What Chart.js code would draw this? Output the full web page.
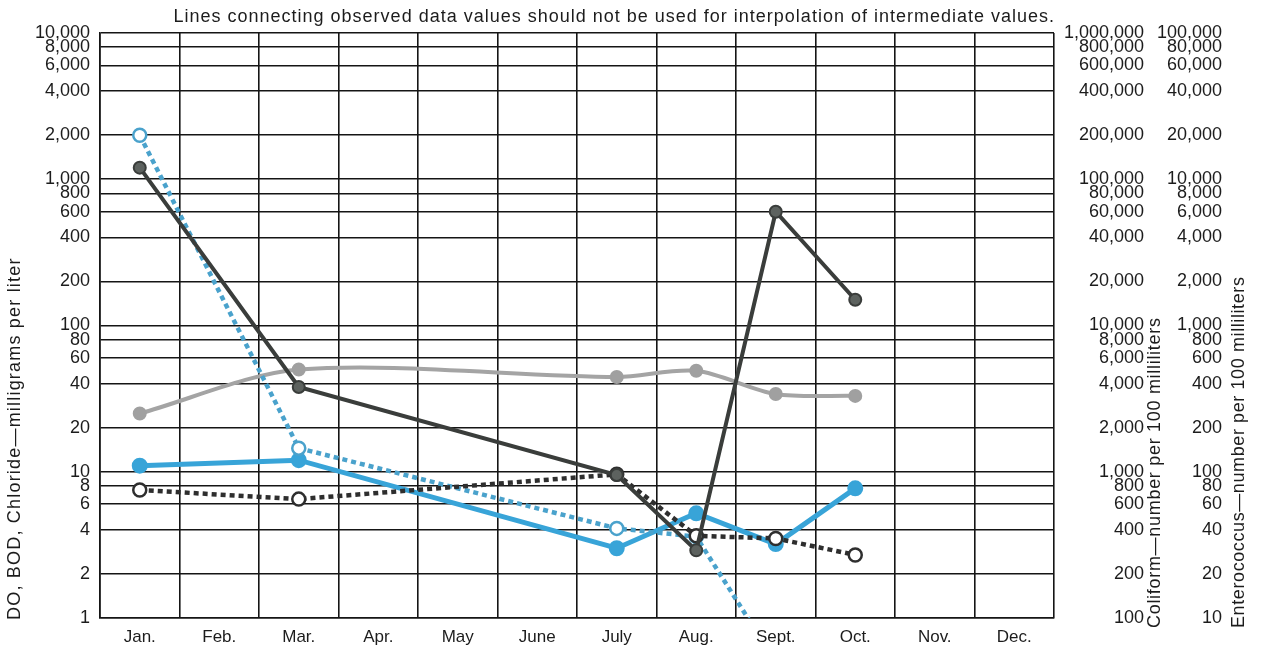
<!DOCTYPE html>
<html>
<head>
<meta charset="utf-8">
<script src="https://cdn.jsdelivr.net/npm/chart.js@4"></script>
<style>
body{margin:0;background:#fff}
#wrap{width:1281px;height:651px;position:relative}
</style>
</head>
<body>
<div id="wrap"><canvas id="chart"></canvas></div>
<script>
const months=['Jan.','Feb.','Mar.','Apr.','May','June','July','Aug.','Sept.','Oct.','Nov.','Dec.']

const tickValues=[1,2,4,6,8,10,20,40,60,80,100,200,400,600,800,1000,2000,4000,6000,8000,10000]
const leftLabels=['1','2','4','6','8','10','20','40','60','80','100','200','400','600','800','1,000','2,000','4,000','6,000','8,000','10,000']
const coliformLabels=['100','200','400','600','800','1,000','2,000','4,000','6,000','8,000','10,000','20,000','40,000','60,000','80,000','100,000','200,000','400,000','600,000','800,000','1,000,000']
const enteroLabels=['10','20','40','60','80','100','200','400','600','800','1,000','2,000','4,000','6,000','8,000','10,000','20,000','40,000','60,000','80,000','100,000']

// values in left-axis units, one per month (null = no sample)
const darkSolid=[1200,null,38,null,null,null,9.5,2.9,600,150,null,null]
const darkDotted=[7.5,null,6.5,null,null,null,9.6,3.65,3.5,2.7,null,null]
const blueDotted=[2000,null,14.5,null,null,null,4.1,3.6,0.5,null,null,null]
const blueSolid=[11,null,12,null,null,null,3.0,5.2,3.2,7.7,null,null]
const graySolid=[25,null,50,null,null,null,44.5,49,34,33,null,null]

const note='Lines connecting observed data values should not be used for interpolation of intermediate values.'
const leftTitle='DO, BOD, Chloride\u2014milligrams per liter'
const coliformTitle='Coliform\u2014number per 100 milliliters'
const enteroTitle='Enterococcus\u2014number per 100 milliliters'

const FONT='"Liberation Sans", Arial, sans-serif'
const INK='#1c1c1c'

function setTicks(scale){
scale.ticks=tickValues.map(v=>({value:v}))
}

// note above the grid and the three rotated axis titles
const extras={
id:'extras',
afterDraw(chart){
const ctx=chart.ctx
const a=chart.chartArea
ctx.save()
ctx.fillStyle=INK
ctx.font='18px '+FONT
ctx.letterSpacing='1px'
ctx.textAlign='right'
ctx.textBaseline='middle'
ctx.fillText(note,a.right+1,a.top-16)
const put=(text,x,y,sp)=>{
ctx.save()
ctx.translate(x,y)
ctx.rotate(-Math.PI/2)
ctx.textAlign='left'
ctx.letterSpacing=sp
ctx.font='18px '+FONT
ctx.fillText(text,0,0)
ctx.restore()
}
put(leftTitle,chart.scales.y.left+15,a.bottom+2,'1.2px')
put(coliformTitle,chart.scales.y2.right+11,a.bottom+10,'0.7px')
put(enteroTitle,chart.scales.y3.right+17,a.bottom+10,'0.6px')
ctx.restore()
}
}

function line(data,color,opts){
return Object.assign({
data:data,
borderColor:color,
borderWidth:4,
pointRadius:6,
pointBorderWidth:2,
pointHoverRadius:6,
spanGaps:true,
tension:0,
fill:false
},opts)
}

new Chart(document.getElementById('chart'),{
type:'line',
data:{
labels:months,
datasets:[
line(darkSolid,'#3a3d3b',{pointBackgroundColor:'#5d625f',pointBorderColor:'#3a3d3b',borderWidth:4}),
line(darkDotted,'#2e2e2e',{borderDash:[5,4],borderWidth:4.5,pointBackgroundColor:'#fff',pointBorderColor:'#2e2e2e',pointBorderWidth:2.5,pointRadius:6.5}),
line(blueDotted,'#4aa2cc',{borderDash:[5,4],borderWidth:4.5,pointBackgroundColor:'#fff',pointBorderColor:'#4aa2cc',pointBorderWidth:2.5,pointRadius:6.5}),
line(blueSolid,'#38a4d8',{borderWidth:5,pointBackgroundColor:'#38a4d8',pointBorderColor:'#38a4d8',pointRadius:7}),
line(graySolid,'#a4a4a4',{pointBackgroundColor:'#a0a0a0',pointBorderColor:'#a0a0a0',tension:0.3})
]
},
options:{
responsive:true,
maintainAspectRatio:false,
animation:false,
events:[],
layout:{padding:{top:33,left:0,right:59,bottom:0}},
plugins:{legend:{display:false},tooltip:{enabled:false},title:{display:false}},
scales:{
x:{
type:'category',
offset:true,
grid:{offset:true,color:'#151515',lineWidth:1.6,drawTicks:false},
border:{display:true,color:'#151515',width:1.6},
ticks:{color:INK,font:{family:FONT,size:17},padding:9,maxRotation:0,autoSkip:false},
afterFit(s){s.height=33}
},
y:{
type:'logarithmic',
position:'left',
min:1,
max:10000,
afterBuildTicks:setTicks,
grid:{color:'#151515',lineWidth:1.6,drawTicks:false},
border:{display:true,color:'#151515',width:1.6},
ticks:{color:INK,font:{family:FONT,size:18},padding:10,autoSkip:false,callback:(v,i)=>leftLabels[i]},
afterFit(s){s.width=100}
},
y2:{
type:'logarithmic',
position:'right',
min:1,
max:10000,
afterBuildTicks:setTicks,
grid:{display:false,drawTicks:false},
border:{display:false},
ticks:{color:INK,font:{family:FONT,size:18},padding:0,crossAlign:'far',autoSkip:false,callback:(v,i)=>coliformLabels[i]},
afterFit(s){s.width=90}
},
y3:{
type:'logarithmic',
position:'right',
min:1,
max:10000,
afterBuildTicks:setTicks,
grid:{display:false,drawTicks:false},
border:{display:false},
ticks:{color:INK,font:{family:FONT,size:18},padding:0,crossAlign:'far',autoSkip:false,callback:(v,i)=>enteroLabels[i]},
afterFit(s){s.width=78}
}
}
},
plugins:[extras]
})
</script>
</body>
</html>
